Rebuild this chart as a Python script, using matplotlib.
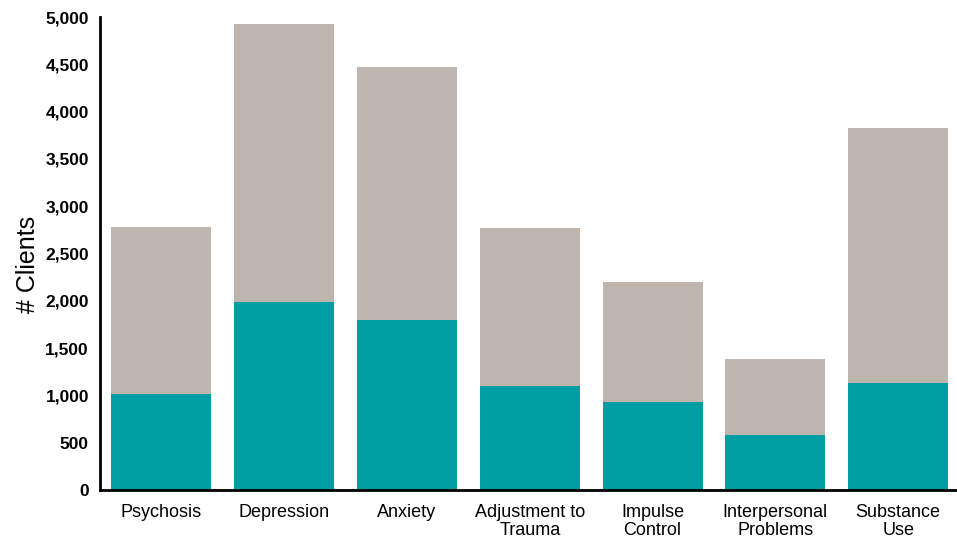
import matplotlib
matplotlib.use("Agg")
import matplotlib.pyplot as plt
import numpy as np

categories = ["Psychosis", "Depression", "Anxiety", "Adjustment to\nTrauma",
              "Impulse\nControl", "Interpersonal\nProblems", "Substance\nUse"]
teal_values = [1015, 1987, 1797, 1099, 930, 581, 1131]
total_values = [2780, 4926, 4471, 2770, 2199, 1385, 3827]
gray_values = [t - b for t, b in zip(total_values, teal_values)]
y_ticks = [0, 500, 1000, 1500, 2000, 2500, 3000, 3500, 4000, 4500, 5000]

plt.rcParams['font.family'] = ['Liberation Sans', 'DejaVu Sans']

fig = plt.figure(figsize=(9.57, 5.38), dpi=100)
ax = fig.add_axes([100/957, 48/538, 857/957, 473/538])

x = np.arange(len(categories))
w = 0.814
ax.bar(x, teal_values, width=w, color="#009EA2", zorder=2)
ax.bar(x, gray_values, bottom=teal_values, width=w, color="#BEB5AF", zorder=2)

ax.set_xlim(-0.5, 6.479)
ax.set_ylim(0, 5000)
ax.set_yticks(y_ticks)
ax.set_yticklabels([f"{v:,}" for v in y_ticks], fontweight="bold", fontsize=12.5)
ax.set_xticks(x)
ax.set_xticklabels(categories, fontsize=13, linespacing=1.1)
ax.tick_params(axis="y", length=0, pad=8)
ax.tick_params(axis="x", length=0, pad=10)
ax.set_ylabel("# Clients", fontsize=18)
ax.yaxis.set_label_coords(-0.07, 0.476)

for s in ["top", "right"]:
    ax.spines[s].set_visible(False)
ax.spines["left"].set_linewidth(2)
ax.spines["bottom"].set_linewidth(2)
ax.spines["left"].set_zorder(3)

fig.savefig("out.png", dpi=100)
